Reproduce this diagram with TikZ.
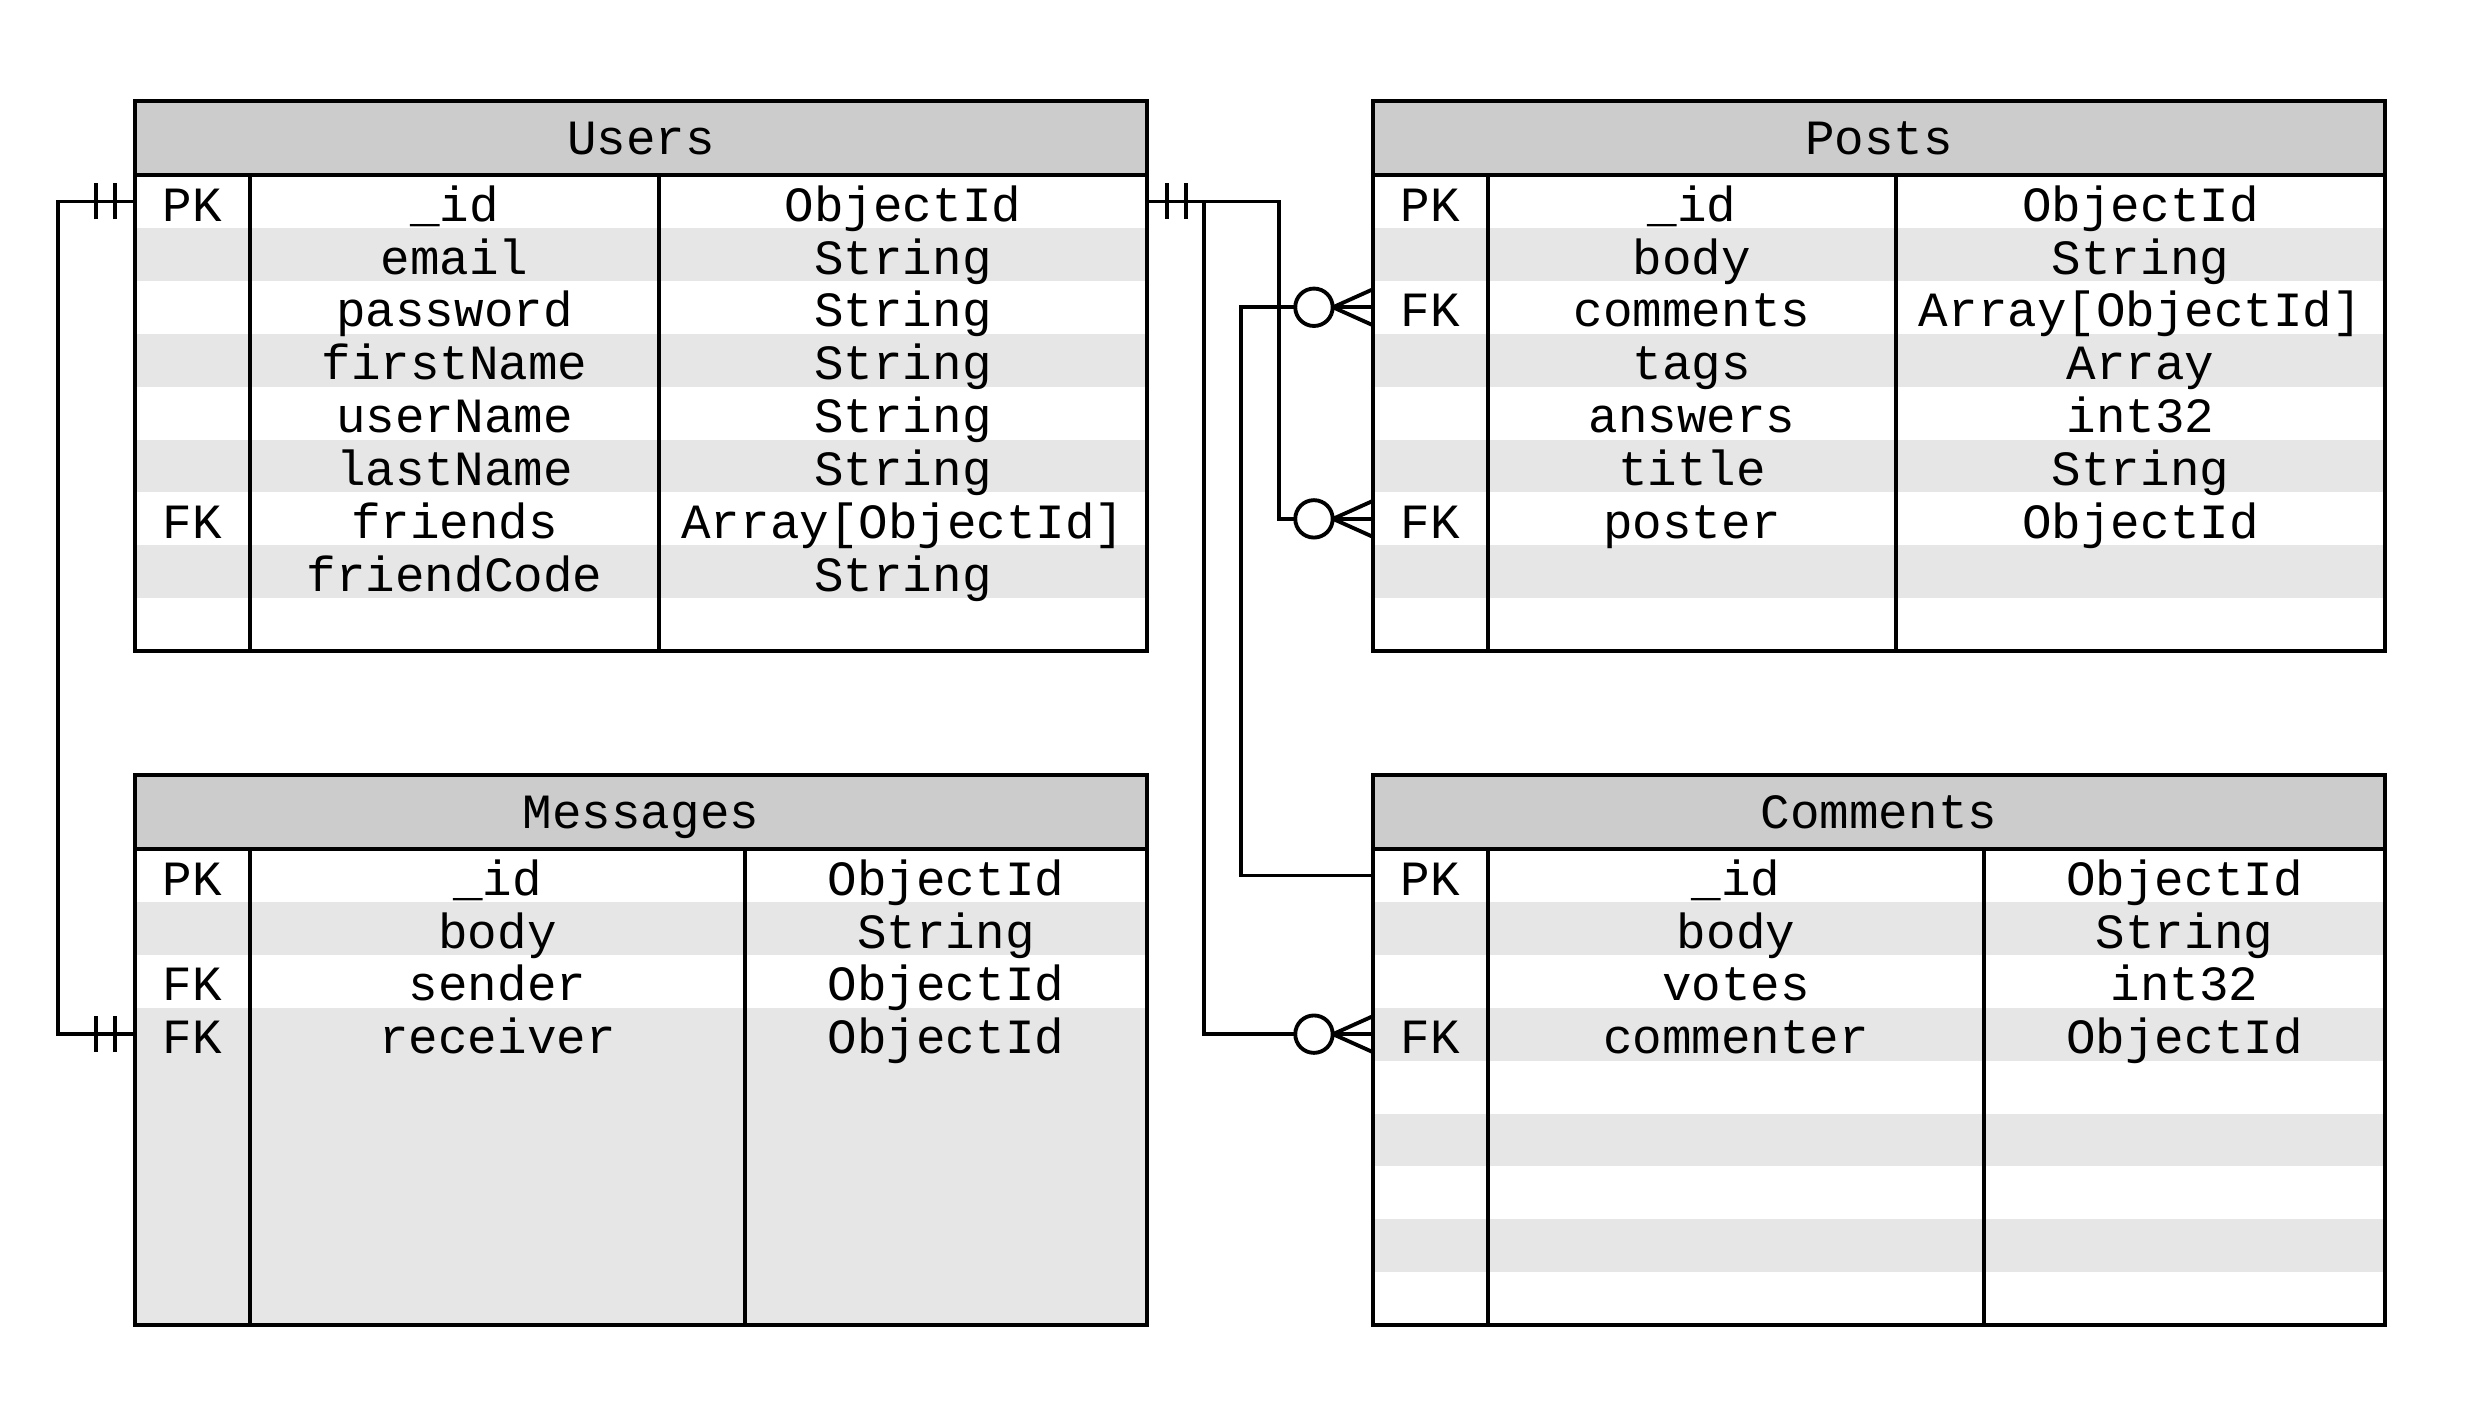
\documentclass[tikz,border=0pt]{standalone}
\usepackage{fontspec}
\setmainfont{Liberation Mono}
\definecolor{headgray}{HTML}{CCCCCC}
\definecolor{stripe}{HTML}{E6E6E6}

\begin{document}
\begin{tikzpicture}[x=0.01cm, y=-0.01cm,
    font=\fontsize{14}{16}\selectfont,
    every node/.style={inner sep=0pt, outer sep=0pt,
      text height=12.6pt, text depth=1.4pt},
    headbox/.style={draw, line width=1.1pt, fill=headgray,
      minimum width=10.12cm, minimum height=0.74cm, text depth=3.2pt},
    keycell/.style={minimum width=1.15cm, minimum height=0.529cm},
    typecell/.style={minimum height=0.529cm},
    tablebox/.style={draw, line width=1.1pt},
    rel/.style={line width=1.1pt},
    one/.pic={\draw[rel] (20,-18) -- (20,18) (39,-18) -- (39,18);},
    zeromany/.pic={\draw[rel] (0,-18) -- (-40,0) -- (0,18);
      \draw[rel, fill=white] (-59,0) circle (0.187cm);}]
   \useasboundingbox (0,0) rectangle (2471,1408);

   % stripes
   \foreach \i in {1,3,5,7} {
     \fill[stripe] (135,175+52.9*\i) rectangle ++(1012,52.9);
     \fill[stripe] (1373,175+52.9*\i) rectangle ++(1012,52.9);
     \fill[stripe] (1373,849+52.9*\i) rectangle ++(1012,52.9);
   }
   \fill[stripe] (135,849+52.9) rectangle ++(1012,52.9);
   \fill[stripe] (135,849+3*52.9) rectangle (1147,1325);

   % tables
   \node[headbox] (users) at (641,138) {Users};
   \node[headbox] (posts) at (1879,138) {Posts};
   \node[headbox] (messages) at (641,812) {Messages};
   \node[headbox] (comments) at (1879,812) {Comments};

   \draw[tablebox] (users.south west) rectangle (1147,651);
   \draw[tablebox] (posts.south west) rectangle (2385,651);
   \draw[tablebox] (messages.south west) rectangle (1147,1325);
   \draw[tablebox] (comments.south west) rectangle (2385,1325);

   \draw[tablebox] (250,175) -- (250,651) (659,175) -- (659,651);
   \draw[tablebox] (1488,175) -- (1488,651) (1896,175) -- (1896,651);
   \draw[tablebox] (250,849) -- (250,1325) (745,849) -- (745,1325);
   \draw[tablebox] (1488,849) -- (1488,1325) (1984,849) -- (1984,1325);

   % rows
   \foreach \k/\f/\t [count=\i from 0] in {PK/\_id/ObjectId, /email/String,
       /password/String, /firstName/String, /userName/String,
       /lastName/String, FK/friends/{Array[ObjectId]}, /friendCode/String} {
     \node[keycell] (u-key-\i) at (192.5,201.45+52.9*\i) {\k};
     \node (u-field-\i) at (454.5,201.45+52.9*\i) {\f};
     \node[typecell, minimum width=4.88cm] (u-type-\i) at (903,201.45+52.9*\i) {\t};
   }
   \foreach \k/\f/\t [count=\i from 0] in {PK/\_id/ObjectId, /body/String,
       FK/comments/{Array[ObjectId]}, /tags/Array, /answers/int32,
       /title/String, FK/poster/ObjectId} {
     \node[keycell] (p-key-\i) at (1430.5,201.45+52.9*\i) {\k};
     \node (p-field-\i) at (1692,201.45+52.9*\i) {\f};
     \node[typecell, minimum width=4.89cm] (p-type-\i) at (2140.5,201.45+52.9*\i) {\t};
   }
   \foreach \k/\f/\t [count=\i from 0] in {PK/\_id/ObjectId, /body/String,
       FK/sender/ObjectId, FK/receiver/ObjectId} {
     \node[keycell] (m-key-\i) at (192.5,875.45+52.9*\i) {\k};
     \node (m-field-\i) at (497.5,875.45+52.9*\i) {\f};
     \node[typecell, minimum width=4.02cm] (m-type-\i) at (946,875.45+52.9*\i) {\t};
   }
   \foreach \k/\f/\t [count=\i from 0] in {PK/\_id/ObjectId, /body/String,
       /votes/int32, FK/commenter/ObjectId} {
     \node[keycell] (c-key-\i) at (1430.5,875.45+52.9*\i) {\k};
     \node (c-field-\i) at (1736,875.45+52.9*\i) {\f};
     \node[typecell, minimum width=4.01cm] (c-type-\i) at (2184.5,875.45+52.9*\i) {\t};
   }

   % relations
   \draw[rel] (u-key-0.west) -- ++(-77,0) |- (m-key-3.west);
   \draw[rel] (u-type-0.east) -- ++(132,0) |- (p-key-6.west);
   \draw[rel] (u-type-0.east) -- ++(57,0) |- (c-key-3.west);
   \draw[rel] (c-key-0.west) -- ++(-132,0) |- (p-key-2.west);

   \pic[rotate=180] at (u-key-0.west) {one};
   \pic[rotate=180] at (m-key-3.west) {one};
   \pic at (u-type-0.east) {one};
   \pic at (p-key-2.west) {zeromany};
   \pic at (p-key-6.west) {zeromany};
   \pic at (c-key-3.west) {zeromany};
\end{tikzpicture}
\end{document}
